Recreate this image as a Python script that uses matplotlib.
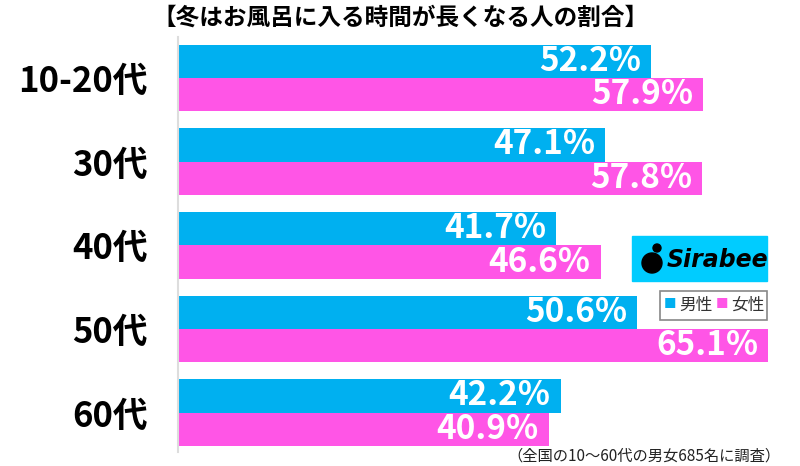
import matplotlib.pyplot as plt
from matplotlib.patches import Rectangle, Ellipse
import numpy as np

plt.rcParams['font.family'] = ['Noto Sans CJK JP', 'DejaVu Sans']

categories = ["10-20代", "30代", "40代", "50代", "60代"]
male = [52.2, 47.1, 41.7, 50.6, 42.2]
female = [57.9, 57.8, 46.6, 65.1, 40.9]
series_labels = ["男性", "女性"]
title = "【冬はお風呂に入る時間が長くなる人の割合】"
note = "（全国の10～60代の男女685名に調査）"

blue = "#00B0F0"
pink = "#FF55E6"

fig = plt.figure(figsize=(8, 4.66), dpi=100)
ax = fig.add_axes([0.2225, 0.030, 0.7650, 0.8906])

y = np.arange(len(categories))
h = 0.4
ax.barh(y - h / 2, male, height=h, color=blue)
ax.barh(y + h / 2, female, height=h, color=pink)

for yi, m, f in zip(y, male, female):
    ax.text(m - 1.1, yi - h / 2, f"{m:.1f}%", color="white", fontsize=24,
            fontweight="bold", ha="right", va="center")
    ax.text(f - 1.1, yi + h / 2, f"{f:.1f}%", color="white", fontsize=24,
            fontweight="bold", ha="right", va="center")

ax.set_xlim(0, 67.5)
ax.set_ylim(len(categories) - 0.53, -0.49)
ax.set_yticks(y)
ax.set_yticklabels(categories, fontsize=25, fontweight="bold")
ax.tick_params(axis="y", length=0, pad=22)
ax.set_xticks([])
for s in ["top", "right", "bottom"]:
    ax.spines[s].set_visible(False)
ax.spines["left"].set_color("#dddddd")
ax.spines["left"].set_linewidth(1.5)

fig.text(0.5, 0.963, title, ha="center", va="center", fontsize=17,
         fontweight="bold")
fig.text(0.975, 0.022, note, ha="right", va="center", fontsize=11,
         color="#222222")

# Sirabee logo
fig.patches.append(Rectangle((632 / 800, 1 - 281 / 466), 135 / 800, 45 / 466,
                             transform=fig.transFigure, color="#00CCFF",
                             zorder=5))
fig.patches.append(Ellipse((652 / 800, 1 - 263 / 466), 20 / 800, 20 / 466,
                           transform=fig.transFigure, color="black",
                           zorder=6))
fig.patches.append(Ellipse((657 / 800, 1 - 248 / 466), 8 / 800, 8 / 466,
                           transform=fig.transFigure, color="black",
                           zorder=6))
fig.text(667 / 800, 1 - 260 / 466, "Sirabee", fontsize=17, fontweight="bold",
         style="italic", family="DejaVu Sans", ha="left", va="center",
         zorder=7)

# legend box
fig.patches.append(Rectangle((660 / 800, 1 - 320 / 466), 107 / 800, 29 / 466,
                             transform=fig.transFigure, facecolor="white",
                             edgecolor="#888888", linewidth=1.2, zorder=5))
fig.text(664 / 800, 1 - 305 / 466, "■", color=blue, fontsize=9,
         va="center", zorder=6)
fig.text(679 / 800, 1 - 305 / 466, series_labels[0], color="#333333",
         fontsize=12, va="center", zorder=6)
fig.text(716 / 800, 1 - 305 / 466, "■", color=pink, fontsize=9,
         va="center", zorder=6)
fig.text(731 / 800, 1 - 305 / 466, series_labels[1], color="#333333",
         fontsize=12, va="center", zorder=6)

fig.savefig("out.png", dpi=100)
